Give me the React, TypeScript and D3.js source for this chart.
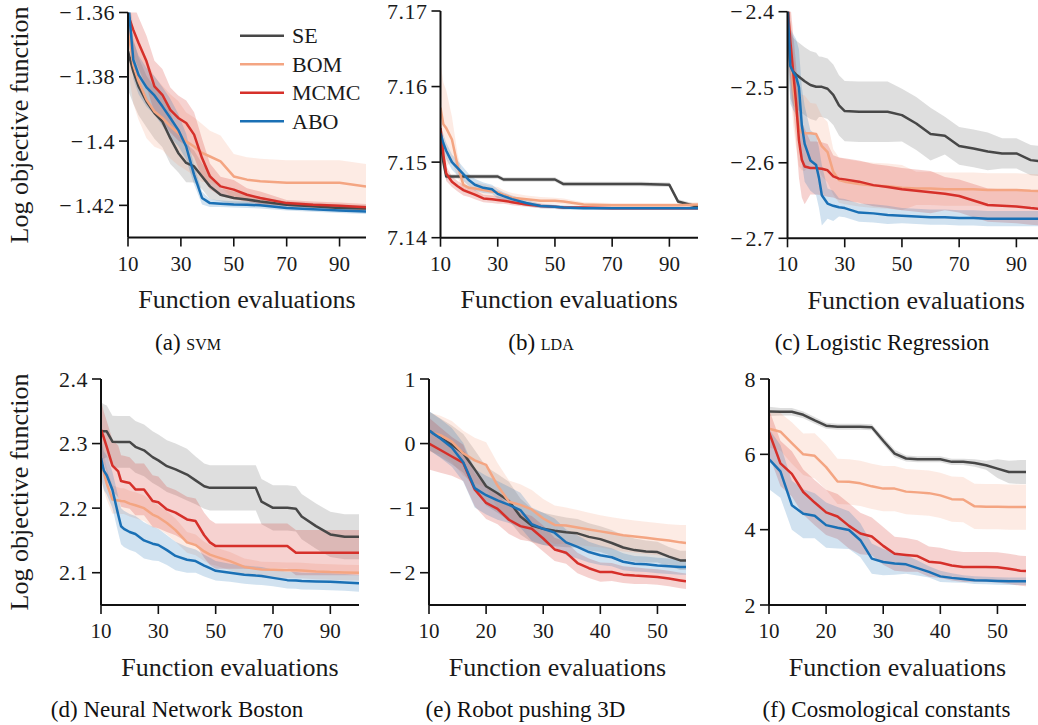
import React from "react";
import * as d3 from "d3";

const W = 1038;
const H = 725;
const FONT = "'Liberation Serif', Tinos, 'Times New Roman', Times, 'DejaVu Serif', serif";

const methods = ["SE", "BOM", "MCMC", "ABO"];
const lineColor: Record<string, string> = { SE: "#474747", BOM: "#f4a582", MCMC: "#d6302a", ABO: "#1a70b5" };
const bandColor: Record<string, string> = { SE: "#999999", BOM: "#f4a582", MCMC: "#d6302a", ABO: "#1a70b5" };
const bandOpacity: Record<string, number> = { SE: 0.32, BOM: 0.22, MCMC: 0.22, ABO: 0.2 };

// (a) SVM
const svmX = [10, 12, 14, 17, 20, 23, 26, 29, 32, 35, 38, 41, 45, 50, 55, 60, 70, 80, 90, 100];
const svmSE = [-1.3721, -1.3783, -1.383, -1.3877, -1.3913, -1.3939, -1.3991, -1.4037, -1.4068, -1.4079, -1.411, -1.4141, -1.4167, -1.4177, -1.4182, -1.4188, -1.4198, -1.4203, -1.4208, -1.421];
const svmSEsd = [0.012, 0.01, 0.009, 0.008, 0.008, 0.008, 0.008, 0.006, 0.006, 0.005, 0.004, 0.004, 0.002, 0.002, 0.0015, 0.0015, 0.001, 0.001, 0.001, 0.001];
const svmBOM = [-1.365, -1.3763, -1.3814, -1.3871, -1.3908, -1.3928, -1.3954, -1.3975, -1.4001, -1.4017, -1.4037, -1.4048, -1.4063, -1.411, -1.412, -1.4125, -1.413, -1.413, -1.413, -1.4141];
const svmBOMsd = [0.012, 0.012, 0.012, 0.012, 0.011, 0.01, 0.01, 0.01, 0.009, 0.009, 0.009, 0.008, 0.008, 0.007, 0.007, 0.007, 0.007, 0.007, 0.007, 0.007];
const svmMCMC = [-1.3607, -1.3654, -1.3695, -1.3752, -1.383, -1.3856, -1.3903, -1.3928, -1.3944, -1.398, -1.4053, -1.411, -1.4141, -1.4151, -1.4167, -1.4177, -1.4193, -1.4198, -1.4201, -1.4206];
const svmMCMCsd = [0.008, 0.008, 0.008, 0.008, 0.008, 0.008, 0.007, 0.007, 0.007, 0.007, 0.006, 0.004, 0.003, 0.003, 0.002, 0.002, 0.001, 0.001, 0.001, 0.001];
const svmABO = [-1.356, -1.3747, -1.3794, -1.3833, -1.3858, -1.3892, -1.3928, -1.3965, -1.4017, -1.4105, -1.4177, -1.4193, -1.4195, -1.4197, -1.4198, -1.42, -1.4208, -1.4212, -1.4216, -1.4219];
const svmABOsd = [0.007, 0.006, 0.006, 0.006, 0.006, 0.006, 0.006, 0.005, 0.004, 0.003, 0.002, 0.0012, 0.001, 0.001, 0.001, 0.001, 0.0008, 0.0008, 0.0008, 0.0008];

// (b) LDA
const ldaX = [10, 11, 12, 14, 16, 18, 20, 22, 25, 28, 30, 32, 35, 40, 45, 50, 53, 60, 70, 80, 90, 93, 100];
const ldaSE = [7.153, 7.15, 7.1481, 7.1481, 7.1481, 7.1481, 7.1481, 7.1481, 7.1481, 7.1481, 7.1481, 7.1477, 7.1477, 7.1477, 7.1477, 7.1477, 7.1471, 7.1471, 7.1471, 7.1471, 7.147, 7.1448, 7.1441];
const ldaSEsd = [0.001, 0.0006, 0.0004, 0.0003, 0.0003, 0.0003, 0.0003, 0.0003, 0.0003, 0.0003, 0.0003, 0.0003, 0.0003, 0.0003, 0.0003, 0.0003, 0.0003, 0.0003, 0.0003, 0.0003, 0.0003, 0.0003, 0.0003];
const ldaBOM = [7.1572, 7.155, 7.1545, 7.153, 7.1495, 7.147, 7.1466, 7.1465, 7.1463, 7.1461, 7.146, 7.1457, 7.1453, 7.1451, 7.1449, 7.1449, 7.1448, 7.1444, 7.1443, 7.1443, 7.1443, 7.1443, 7.1444];
const ldaBOMsd = [0.006, 0.0055, 0.005, 0.003, 0.0015, 0.001, 0.0008, 0.0008, 0.0008, 0.0007, 0.0007, 0.0006, 0.0006, 0.0005, 0.0005, 0.0004, 0.0004, 0.0003, 0.0003, 0.0003, 0.0003, 0.0003, 0.0003];
const ldaMCMC = [7.1545, 7.151, 7.1485, 7.1474, 7.1468, 7.1463, 7.146, 7.1457, 7.1452, 7.1451, 7.145, 7.1449, 7.1447, 7.1444, 7.1442, 7.1441, 7.144, 7.144, 7.1439, 7.1439, 7.1439, 7.1439, 7.1439];
const ldaMCMCsd = [0.002, 0.0015, 0.001, 0.0007, 0.0007, 0.0007, 0.0006, 0.0006, 0.0005, 0.0005, 0.0005, 0.0004, 0.0004, 0.0003, 0.0003, 0.0002, 0.0002, 0.0002, 0.0002, 0.0002, 0.0002, 0.0002, 0.0002];
const ldaABO = [7.1538, 7.1525, 7.1515, 7.15, 7.1492, 7.1484, 7.1476, 7.147, 7.1466, 7.1464, 7.1458, 7.1455, 7.1451, 7.1446, 7.1442, 7.1441, 7.144, 7.1439, 7.1439, 7.1439, 7.1439, 7.1439, 7.1439];
const ldaABOsd = [0.0012, 0.0012, 0.0011, 0.001, 0.001, 0.0009, 0.0008, 0.0008, 0.0007, 0.0006, 0.0006, 0.0005, 0.0005, 0.0004, 0.0003, 0.0003, 0.0003, 0.0002, 0.0002, 0.0002, 0.0002, 0.0002, 0.0002];

// (c) Logistic Regression
const lrX = [10, 11, 12, 13, 14, 15, 16, 18, 20, 21, 22, 24, 26, 28, 30, 35, 40, 45, 50, 55, 60, 65, 70, 75, 80, 85, 90, 95, 100];
const lrSE = [-2.39, -2.47, -2.4795, -2.483, -2.486, -2.489, -2.492, -2.497, -2.4993, -2.4994, -2.4995, -2.502, -2.51, -2.524, -2.5316, -2.5325, -2.5325, -2.5325, -2.5369, -2.548, -2.562, -2.5642, -2.5777, -2.581, -2.585, -2.5876, -2.5876, -2.5965, -2.5985];
const lrSEsd = [0.06, 0.045, 0.045, 0.045, 0.045, 0.045, 0.045, 0.045, 0.045, 0.04, 0.04, 0.04, 0.04, 0.04, 0.04, 0.04, 0.04, 0.04, 0.035, 0.035, 0.035, 0.025, 0.025, 0.025, 0.025, 0.02, 0.02, 0.02, 0.02];
const lrBOM = [-2.39, -2.45, -2.5, -2.53, -2.555, -2.56, -2.561, -2.561, -2.562, -2.57, -2.578, -2.586, -2.612, -2.623, -2.625, -2.628, -2.63, -2.631, -2.633, -2.634, -2.634, -2.635, -2.635, -2.635, -2.636, -2.636, -2.636, -2.637, -2.6375];
const lrBOMsd = [0.06, 0.05, 0.05, 0.05, 0.05, 0.05, 0.05, 0.04, 0.04, 0.04, 0.04, 0.04, 0.03, 0.03, 0.03, 0.03, 0.03, 0.03, 0.03, 0.022, 0.022, 0.022, 0.022, 0.022, 0.022, 0.022, 0.022, 0.022, 0.022];
const lrMCMC = [-2.39, -2.44, -2.48, -2.52, -2.57, -2.596, -2.605, -2.607, -2.607, -2.6075, -2.608, -2.61, -2.618, -2.621, -2.622, -2.625, -2.6296, -2.632, -2.635, -2.637, -2.639, -2.641, -2.644, -2.65, -2.656, -2.657, -2.658, -2.66, -2.6615];
const lrMCMCsd = [0.06, 0.05, 0.05, 0.05, 0.05, 0.05, 0.05, 0.035, 0.035, 0.035, 0.035, 0.035, 0.028, 0.028, 0.028, 0.028, 0.028, 0.028, 0.028, 0.028, 0.028, 0.022, 0.022, 0.022, 0.022, 0.022, 0.022, 0.022, 0.022];
const lrABO = [-2.39, -2.472, -2.48, -2.486, -2.5, -2.55, -2.575, -2.597, -2.603, -2.62, -2.643, -2.654, -2.657, -2.659, -2.66, -2.666, -2.667, -2.669, -2.67, -2.671, -2.672, -2.672, -2.673, -2.673, -2.674, -2.674, -2.674, -2.674, -2.674];
const lrABOsd = [0.06, 0.05, 0.05, 0.05, 0.05, 0.05, 0.05, 0.04, 0.04, 0.04, 0.04, 0.02, 0.02, 0.012, 0.012, 0.012, 0.012, 0.012, 0.01, 0.01, 0.01, 0.01, 0.01, 0.01, 0.01, 0.01, 0.01, 0.01, 0.01];

// (d) Neural Network Boston
const nnX = [10, 11, 12, 14, 16, 17, 18, 20, 22, 25, 28, 30, 33, 36, 40, 43, 46, 48, 50, 55, 60, 64, 66, 70, 75, 78, 80, 85, 90, 95, 100];
const nnSE = [2.319, 2.319, 2.319, 2.303, 2.3026, 2.3026, 2.3026, 2.3026, 2.295, 2.2895, 2.279, 2.274, 2.265, 2.26, 2.252, 2.243, 2.234, 2.2314, 2.2314, 2.2314, 2.2314, 2.2314, 2.21, 2.2005, 2.2005, 2.199, 2.187, 2.1722, 2.1593, 2.1557, 2.1557];
const nnSEsd = [0.045, 0.042, 0.04, 0.04, 0.04, 0.04, 0.04, 0.04, 0.04, 0.04, 0.04, 0.04, 0.04, 0.04, 0.04, 0.037, 0.035, 0.035, 0.035, 0.035, 0.035, 0.035, 0.035, 0.035, 0.035, 0.035, 0.035, 0.035, 0.035, 0.035, 0.035];
const nnBOM = [2.275, 2.255, 2.238, 2.2134, 2.212, 2.211, 2.2108, 2.207, 2.2045, 2.2, 2.19, 2.186, 2.177, 2.166, 2.147, 2.143, 2.133, 2.128, 2.125, 2.118, 2.109, 2.106, 2.105, 2.1045, 2.104, 2.104, 2.1035, 2.102, 2.101, 2.1005, 2.1];
const nnBOMsd = [0.03, 0.028, 0.025, 0.022, 0.02, 0.02, 0.02, 0.02, 0.02, 0.02, 0.02, 0.018, 0.018, 0.018, 0.016, 0.016, 0.015, 0.015, 0.014, 0.014, 0.013, 0.013, 0.012, 0.012, 0.012, 0.012, 0.012, 0.012, 0.012, 0.012, 0.012];
const nnMCMC = [2.3216, 2.309, 2.295, 2.266, 2.257, 2.242, 2.241, 2.239, 2.229, 2.229, 2.211, 2.209, 2.198, 2.193, 2.1825, 2.18, 2.158, 2.147, 2.1412, 2.1412, 2.1412, 2.1412, 2.1412, 2.1412, 2.1412, 2.131, 2.131, 2.131, 2.131, 2.131, 2.131];
const nnMCMCsd = [0.045, 0.04, 0.04, 0.04, 0.04, 0.04, 0.04, 0.04, 0.04, 0.04, 0.04, 0.04, 0.035, 0.035, 0.035, 0.035, 0.035, 0.035, 0.035, 0.035, 0.035, 0.035, 0.035, 0.035, 0.035, 0.035, 0.035, 0.035, 0.035, 0.035, 0.035];
const nnABO = [2.2778, 2.258, 2.251, 2.228, 2.19, 2.172, 2.168, 2.163, 2.16, 2.15, 2.145, 2.143, 2.135, 2.126, 2.12, 2.118, 2.111, 2.107, 2.103, 2.1, 2.097, 2.0955, 2.095, 2.092, 2.0885, 2.088, 2.087, 2.0865, 2.086, 2.085, 2.0835];
const nnABOsd = [0.03, 0.03, 0.03, 0.028, 0.028, 0.028, 0.028, 0.028, 0.028, 0.028, 0.026, 0.025, 0.023, 0.022, 0.02, 0.018, 0.017, 0.016, 0.015, 0.014, 0.014, 0.014, 0.014, 0.013, 0.013, 0.013, 0.013, 0.013, 0.013, 0.013, 0.013];

// (e) Robot pushing 3D
const robotX = [10, 12, 14, 16, 18, 20, 22, 24, 26, 28, 30, 32, 34, 36, 38, 40, 42, 44, 46, 48, 50, 52, 54, 55];
const robotSE = [0.2, 0.09, -0.02, -0.15, -0.4, -0.66, -0.77, -0.89, -1.13, -1.27, -1.32, -1.35, -1.375, -1.39, -1.445, -1.48, -1.54, -1.61, -1.65, -1.67, -1.68, -1.75, -1.809, -1.809];
const robotSEsd = [0.3, 0.3, 0.3, 0.3, 0.3, 0.3, 0.3, 0.3, 0.28, 0.26, 0.25, 0.24, 0.23, 0.22, 0.21, 0.2, 0.2, 0.19, 0.18, 0.17, 0.16, 0.15, 0.15, 0.15];
const robotBOM = [0.18, 0.13, 0.03, -0.15, -0.26, -0.33, -0.65, -0.9, -0.95, -1.02, -1.16, -1.26, -1.27, -1.3, -1.33, -1.36, -1.39, -1.42, -1.44, -1.46, -1.48, -1.5, -1.53, -1.54];
const robotBOMsd = [0.3, 0.3, 0.32, 0.35, 0.35, 0.35, 0.35, 0.33, 0.32, 0.3, 0.3, 0.3, 0.28, 0.27, 0.26, 0.25, 0.25, 0.25, 0.25, 0.25, 0.25, 0.25, 0.27, 0.28];
const robotMCMC = [0.0, -0.1, -0.2, -0.3, -0.71, -0.92, -1.01, -1.18, -1.278, -1.32, -1.47, -1.64, -1.69, -1.85, -1.93, -1.99, -1.99, -2.03, -2.045, -2.055, -2.067, -2.09, -2.12, -2.134];
const robotMCMCsd = [0.4, 0.35, 0.3, 0.28, 0.26, 0.25, 0.24, 0.22, 0.21, 0.2, 0.2, 0.18, 0.17, 0.16, 0.15, 0.15, 0.14, 0.13, 0.13, 0.12, 0.12, 0.12, 0.12, 0.12];
const robotABO = [0.2, 0.08, -0.06, -0.29, -0.69, -0.8, -0.88, -0.95, -1.03, -1.25, -1.32, -1.38, -1.53, -1.6, -1.68, -1.73, -1.76, -1.83, -1.86, -1.87, -1.89, -1.9, -1.91, -1.912];
const robotABOsd = [0.3, 0.3, 0.3, 0.3, 0.3, 0.3, 0.3, 0.28, 0.27, 0.26, 0.25, 0.22, 0.2, 0.18, 0.16, 0.15, 0.14, 0.13, 0.12, 0.12, 0.12, 0.12, 0.12, 0.12];

// (f) Cosmological constants
const cosmoX = [10, 12, 14, 16, 18, 20, 22, 24, 26, 28, 30, 32, 34, 36, 38, 40, 42, 44, 46, 48, 50, 52, 54, 55];
const cosmoSE = [7.14, 7.13, 7.13, 7.05, 6.9, 6.76, 6.73, 6.73, 6.73, 6.72, 6.36, 6.02, 5.89, 5.87, 5.87, 5.87, 5.8, 5.8, 5.77, 5.71, 5.62, 5.53, 5.53, 5.53];
const cosmoSEsd = [0.12, 0.1, 0.1, 0.09, 0.09, 0.08, 0.08, 0.08, 0.08, 0.08, 0.1, 0.1, 0.08, 0.08, 0.08, 0.08, 0.08, 0.08, 0.1, 0.12, 0.25, 0.3, 0.32, 0.32];
const cosmoBOM = [6.68, 6.6, 6.3, 6.0, 5.96, 5.66, 5.28, 5.27, 5.23, 5.15, 5.09, 5.09, 5.01, 4.99, 4.97, 4.91, 4.81, 4.8, 4.62, 4.61, 4.61, 4.6, 4.6, 4.6];
const cosmoBOMsd = [0.5, 0.5, 0.55, 0.55, 0.6, 0.6, 0.6, 0.6, 0.6, 0.6, 0.6, 0.6, 0.6, 0.6, 0.6, 0.6, 0.6, 0.6, 0.6, 0.6, 0.6, 0.6, 0.6, 0.6];
const cosmoMCMC = [6.59, 5.76, 5.48, 5.0, 4.72, 4.46, 4.35, 4.1, 3.9, 3.82, 3.57, 3.36, 3.33, 3.3, 3.15, 3.12, 3.05, 3.01, 3.01, 3.01, 3.0, 2.96, 2.91, 2.9];
const cosmoMCMCsd = [0.6, 0.6, 0.6, 0.6, 0.6, 0.6, 0.6, 0.6, 0.55, 0.5, 0.5, 0.45, 0.45, 0.42, 0.4, 0.4, 0.4, 0.4, 0.4, 0.4, 0.4, 0.4, 0.4, 0.4];
const cosmoABO = [5.87, 5.55, 4.65, 4.42, 4.37, 4.12, 4.05, 3.99, 3.72, 3.23, 3.14, 3.1, 3.08, 2.98, 2.88, 2.76, 2.72, 2.69, 2.66, 2.65, 2.64, 2.63, 2.63, 2.63];
const cosmoABOsd = [0.8, 0.7, 0.65, 0.65, 0.6, 0.6, 0.55, 0.5, 0.45, 0.4, 0.35, 0.3, 0.25, 0.2, 0.15, 0.15, 0.12, 0.1, 0.1, 0.1, 0.1, 0.1, 0.1, 0.1];

const topXTicks = [10, 30, 50, 70, 90];
const bottomXTicks = [10, 20, 30, 40, 50];

const panels = [
  {
    caption: <>(a) <tspan fontVariant="small-caps">svm</tspan></>,
    capX: 188, capY: 350,
    xs: svmX,
    data: { SE: [svmSE, svmSEsd], BOM: [svmBOM, svmBOMsd], MCMC: [svmMCMC, svmMCMCsd], ABO: [svmABO, svmABOsd] },
    xDomain: [10, 100], yDomain: [-1.43, -1.36],
    box: { left: 128, right: 366, top: 12.5, bottom: 237.5 },
    xTicks: topXTicks, yTicks: [-1.42, -1.4, -1.38, -1.36],
    yLabel: true, legend: true,
  },
  {
    caption: <>(b) <tspan fontVariant="small-caps">lda</tspan></>,
    capX: 541, capY: 350,
    xs: ldaX,
    data: { SE: [ldaSE, ldaSEsd], BOM: [ldaBOM, ldaBOMsd], MCMC: [ldaMCMC, ldaMCMCsd], ABO: [ldaABO, ldaABOsd] },
    xDomain: [10, 100], yDomain: [7.14, 7.17],
    box: { left: 440.5, right: 698, top: 11, bottom: 237.7 },
    xTicks: topXTicks, yTicks: [7.14, 7.15, 7.16, 7.17],
  },
  {
    caption: <>(c) Logistic Regression</>,
    capX: 882, capY: 350,
    xs: lrX,
    data: { SE: [lrSE, lrSEsd], BOM: [lrBOM, lrBOMsd], MCMC: [lrMCMC, lrMCMCsd], ABO: [lrABO, lrABOsd] },
    xDomain: [10, 100], yDomain: [-2.7, -2.4],
    box: { left: 787.5, right: 1045, top: 11.7, bottom: 238.3 },
    xTicks: topXTicks, yTicks: [-2.7, -2.6, -2.5, -2.4],
  },
  {
    caption: <>(d) Neural Network Boston</>,
    capX: 177, capY: 717,
    xs: nnX,
    data: { SE: [nnSE, nnSEsd], BOM: [nnBOM, nnBOMsd], MCMC: [nnMCMC, nnMCMCsd], ABO: [nnABO, nnABOsd] },
    xDomain: [10, 100], yDomain: [2.05, 2.4],
    box: { left: 101, right: 359, top: 379, bottom: 605 },
    xTicks: topXTicks, yTicks: [2.1, 2.2, 2.3, 2.4],
    yLabel: true,
  },
  {
    caption: <>(e) Robot pushing 3D</>,
    capX: 525.5, capY: 717,
    xs: robotX,
    data: { SE: [robotSE, robotSEsd], BOM: [robotBOM, robotBOMsd], MCMC: [robotMCMC, robotMCMCsd], ABO: [robotABO, robotABOsd] },
    xDomain: [10, 55], yDomain: [-2.5, 1],
    box: { left: 429, right: 686, top: 379, bottom: 605 },
    xTicks: bottomXTicks, yTicks: [-2, -1, 0, 1],
  },
  {
    caption: <>(f) Cosmological constants</>,
    capX: 886.5, capY: 717,
    xs: cosmoX,
    data: { SE: [cosmoSE, cosmoSEsd], BOM: [cosmoBOM, cosmoBOMsd], MCMC: [cosmoMCMC, cosmoMCMCsd], ABO: [cosmoABO, cosmoABOsd] },
    xDomain: [10, 55], yDomain: [2, 8],
    box: { left: 769, right: 1026, top: 379, bottom: 605 },
    xTicks: bottomXTicks, yTicks: [2, 4, 6, 8],
  },
];

// math-style minus with a little room after it, like the LaTeX tick labels
const fmt = (v: number) => String(v).replace("-", "\u2212\u200a");

function Panel({ p, idx }: { p: any; idx: number }) {
  const { left, right, top, bottom } = p.box;
  const x = d3.scaleLinear().domain(p.xDomain).range([left, right]);
  const y = d3.scaleLinear().domain(p.yDomain).range([bottom, top]);
  const line = d3.line<number>().x((_, i) => x(p.xs[i])).y((d) => y(d));
  const band = (m: number[], s: number[]) =>
    d3.area<number>()
      .x((_, i) => x(p.xs[i]))
      .y0((d, i) => y(d - s[i]))
      .y1((d, i) => y(d + s[i]))(m);
  const clipId = `clip-${idx}`;
  const tick = 9;

  return (
    <g>
      <defs>
        <clipPath id={clipId}>
          <rect x={left} y={top} width={right - left} height={bottom - top} />
        </clipPath>
      </defs>
      <g clipPath={`url(#${clipId})`}>
        {methods.map((m) => (
          <path key={"b" + m} d={band(p.data[m][0], p.data[m][1]) || ""} fill={bandColor[m]} fillOpacity={bandOpacity[m]} stroke="none" />
        ))}
        {methods.map((m) => (
          <path key={"l" + m} d={line(p.data[m][0]) || ""} fill="none" stroke={lineColor[m]} strokeWidth={2.5} strokeLinejoin="round" />
        ))}
      </g>

      <line x1={left} x2={left} y1={top} y2={bottom} stroke="#111" strokeWidth={2} />
      <line x1={left} x2={right} y1={bottom} y2={bottom} stroke="#111" strokeWidth={2} />

      {p.yTicks.map((t: number) => (
        <g key={"y" + t}>
          <line x1={left - tick} x2={left} y1={y(t)} y2={y(t)} stroke="#111" strokeWidth={1.6} />
          <text fontFamily={FONT} x={left - 13} y={y(t)} dy="0.35em" textAnchor="end" fontSize={22} letterSpacing={0.5} fill="#1a1a1a">{fmt(t)}</text>
        </g>
      ))}
      {p.xTicks.map((t: number) => (
        <g key={"x" + t}>
          <line x1={x(t)} x2={x(t)} y1={bottom} y2={bottom + tick} stroke="#111" strokeWidth={1.6} />
          <text fontFamily={FONT} x={x(t)} y={bottom + 33} textAnchor="middle" fontSize={21} fill="#1a1a1a">{fmt(t)}</text>
        </g>
      ))}

      <text fontFamily={FONT} x={(left + right) / 2} y={bottom + 70.5} textAnchor="middle" fontSize={26} fill="#1a1a1a">Function evaluations</text>
      {p.yLabel && (
        <text fontFamily={FONT} transform={`translate(28,${(top + bottom) / 2}) rotate(-90)`} textAnchor="middle" fontSize={26} fill="#1a1a1a">Log objective function</text>
      )}
      <text fontFamily={FONT} x={p.capX} y={p.capY} textAnchor="middle" fontSize={23} fill="#111">{p.caption}</text>

      {p.legend && (
        <g>
          {methods.map((m, i) => (
            <g key={"lg" + m}>
              <line x1={240} x2={284} y1={35.7 + i * 28.5} y2={35.7 + i * 28.5} stroke={lineColor[m]} strokeWidth={2.6} />
              <text fontFamily={FONT} x={292} y={35.7 + i * 28.5} dy="0.35em" fontSize={22} fill="#1a1a1a">{m}</text>
            </g>
          ))}
        </g>
      )}
    </g>
  );
}

export default function App() {
  return (
    <svg width={W} height={H} viewBox={`0 0 ${W} ${H}`} style={{ position: "absolute", left: 0, top: 0, background: "#fff" }}>
      <rect width={W} height={H} fill="#fff" />
      {panels.map((p, i) => (
        <Panel key={i} p={p} idx={i} />
      ))}
    </svg>
  );
}
